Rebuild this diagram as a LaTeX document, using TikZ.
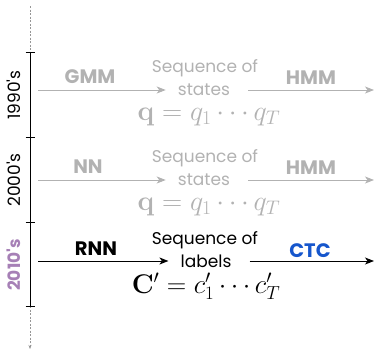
\RequirePackage{fix-cm}
\documentclass[tikz,border=0pt]{standalone}
\usepackage[no-math]{fontspec}
\setmainfont{Poppins}
\usetikzlibrary{arrows.meta}
\definecolor{lgray}{RGB}{178,178,178}
\definecolor{dgray}{RGB}{150,150,150}
\definecolor{ypurple}{RGB}{166,128,182}
\definecolor{ctcblue}{RGB}{22,86,204}
\tikzset{
  model/.style={font=\fontsize{19.5}{22}\selectfont\bfseries, inner sep=0pt},
  seqtxt/.style={font=\fontsize{17}{19}\selectfont, inner sep=0pt},
  mathtxt/.style={font=\fontsize{28}{32}\selectfont, inner sep=0pt, anchor=base},
  year/.style={font=\fontsize{17}{19}\selectfont, rotate=90, inner sep=0pt},
  flow/.style={line width=0.9pt, -{Stealth[length=9pt,width=7pt,inset=2.5pt]}},
  tline/.style={line width=0.9pt},
  dline/.style={dashed, dash pattern=on 2pt off 1.5pt, draw=dgray, line width=0.5pt}
}
\begin{document}
\begin{tikzpicture}[x=1pt,y=-1pt]
\useasboundingbox (0,0) rectangle (376,351);
% timeline
\coordinate (t0) at (30,6);
\coordinate (t1) at (30,52);
\coordinate (t2) at (30,137);
\coordinate (t3) at (30,222);
\coordinate (t4) at (30,306);
\coordinate (t5) at (30,349);
\draw[dline] (t0) -- (t1);
\draw[dline,-{Stealth[length=4pt,width=3pt]}] (t4) -- (t5);
\draw[tline] (t1) -- (t4);
\foreach \t in {t1,t2,t3,t4}{\draw[tline] ([xshift=-4.5pt]\t) -- ([xshift=4.5pt]\t);}
\node[year] (y1) at (14,95) {1990\textquotesingle s};
\node[year] (y2) at (14,180) {2000\textquotesingle s};
\node[year,text=ypurple,font=\fontsize{17}{19}\selectfont\bfseries] (y3) at (14,265) {2010\textquotesingle s};
% row 1
\node[model,text=lgray] (gmm) at (90,77) {GMM};
\node[seqtxt,text=lgray] (sq1) at (205,68) {Sequence of};
\node[seqtxt,text=lgray] (st1) at (204,90) {states};
\node[mathtxt,text=lgray] (m1) at (209,120) {$\mathbf{q}=q_1\cdots q_T$};
\node[model,text=lgray] (hmm1) at (311,78) {HMM};
\coordinate (a1) at (38,90);
\coordinate (b1) at (374,90);
\draw[flow,draw=lgray] (a1) -- ([xshift=-12pt]st1.west);
\draw[flow,draw=lgray] ([xshift=18pt]st1.east) -- (b1);
% row 2
\node[model,text=lgray] (nn) at (88,167) {NN};
\node[seqtxt,text=lgray] (sq2) at (205,158) {Sequence of};
\node[seqtxt,text=lgray] (st2) at (204,180) {states};
\node[mathtxt,text=lgray] (m2) at (209,210) {$\mathbf{q}=q_1\cdots q_T$};
\node[model,text=lgray] (hmm2) at (311,168) {HMM};
\coordinate (a2) at (38,180);
\coordinate (b2) at (374,180);
\draw[flow,draw=lgray] (a2) -- ([xshift=-12pt]st2.west);
\draw[flow,draw=lgray] ([xshift=18pt]st2.east) -- (b2);
% row 3
\node[model] (rnn) at (96,249) {RNN};
\node[seqtxt] (sq3) at (205,240) {Sequence of};
\node[seqtxt] (st3) at (206,261) {labels};
\node[mathtxt,font=\fontsize{27}{31}\selectfont] (m3) at (206,293) {$\mathbf{C}'=c'_1\cdots c'_T$};
\node[model,text=ctcblue] (ctc) at (310,251) {CTC};
\coordinate (a3) at (38,261);
\coordinate (b3) at (374,261);
\draw[flow] (a3) -- ([xshift=-12pt]st3.west);
\draw[flow] ([xshift=18pt]st3.east) -- (b3);
\end{tikzpicture}
\end{document}
